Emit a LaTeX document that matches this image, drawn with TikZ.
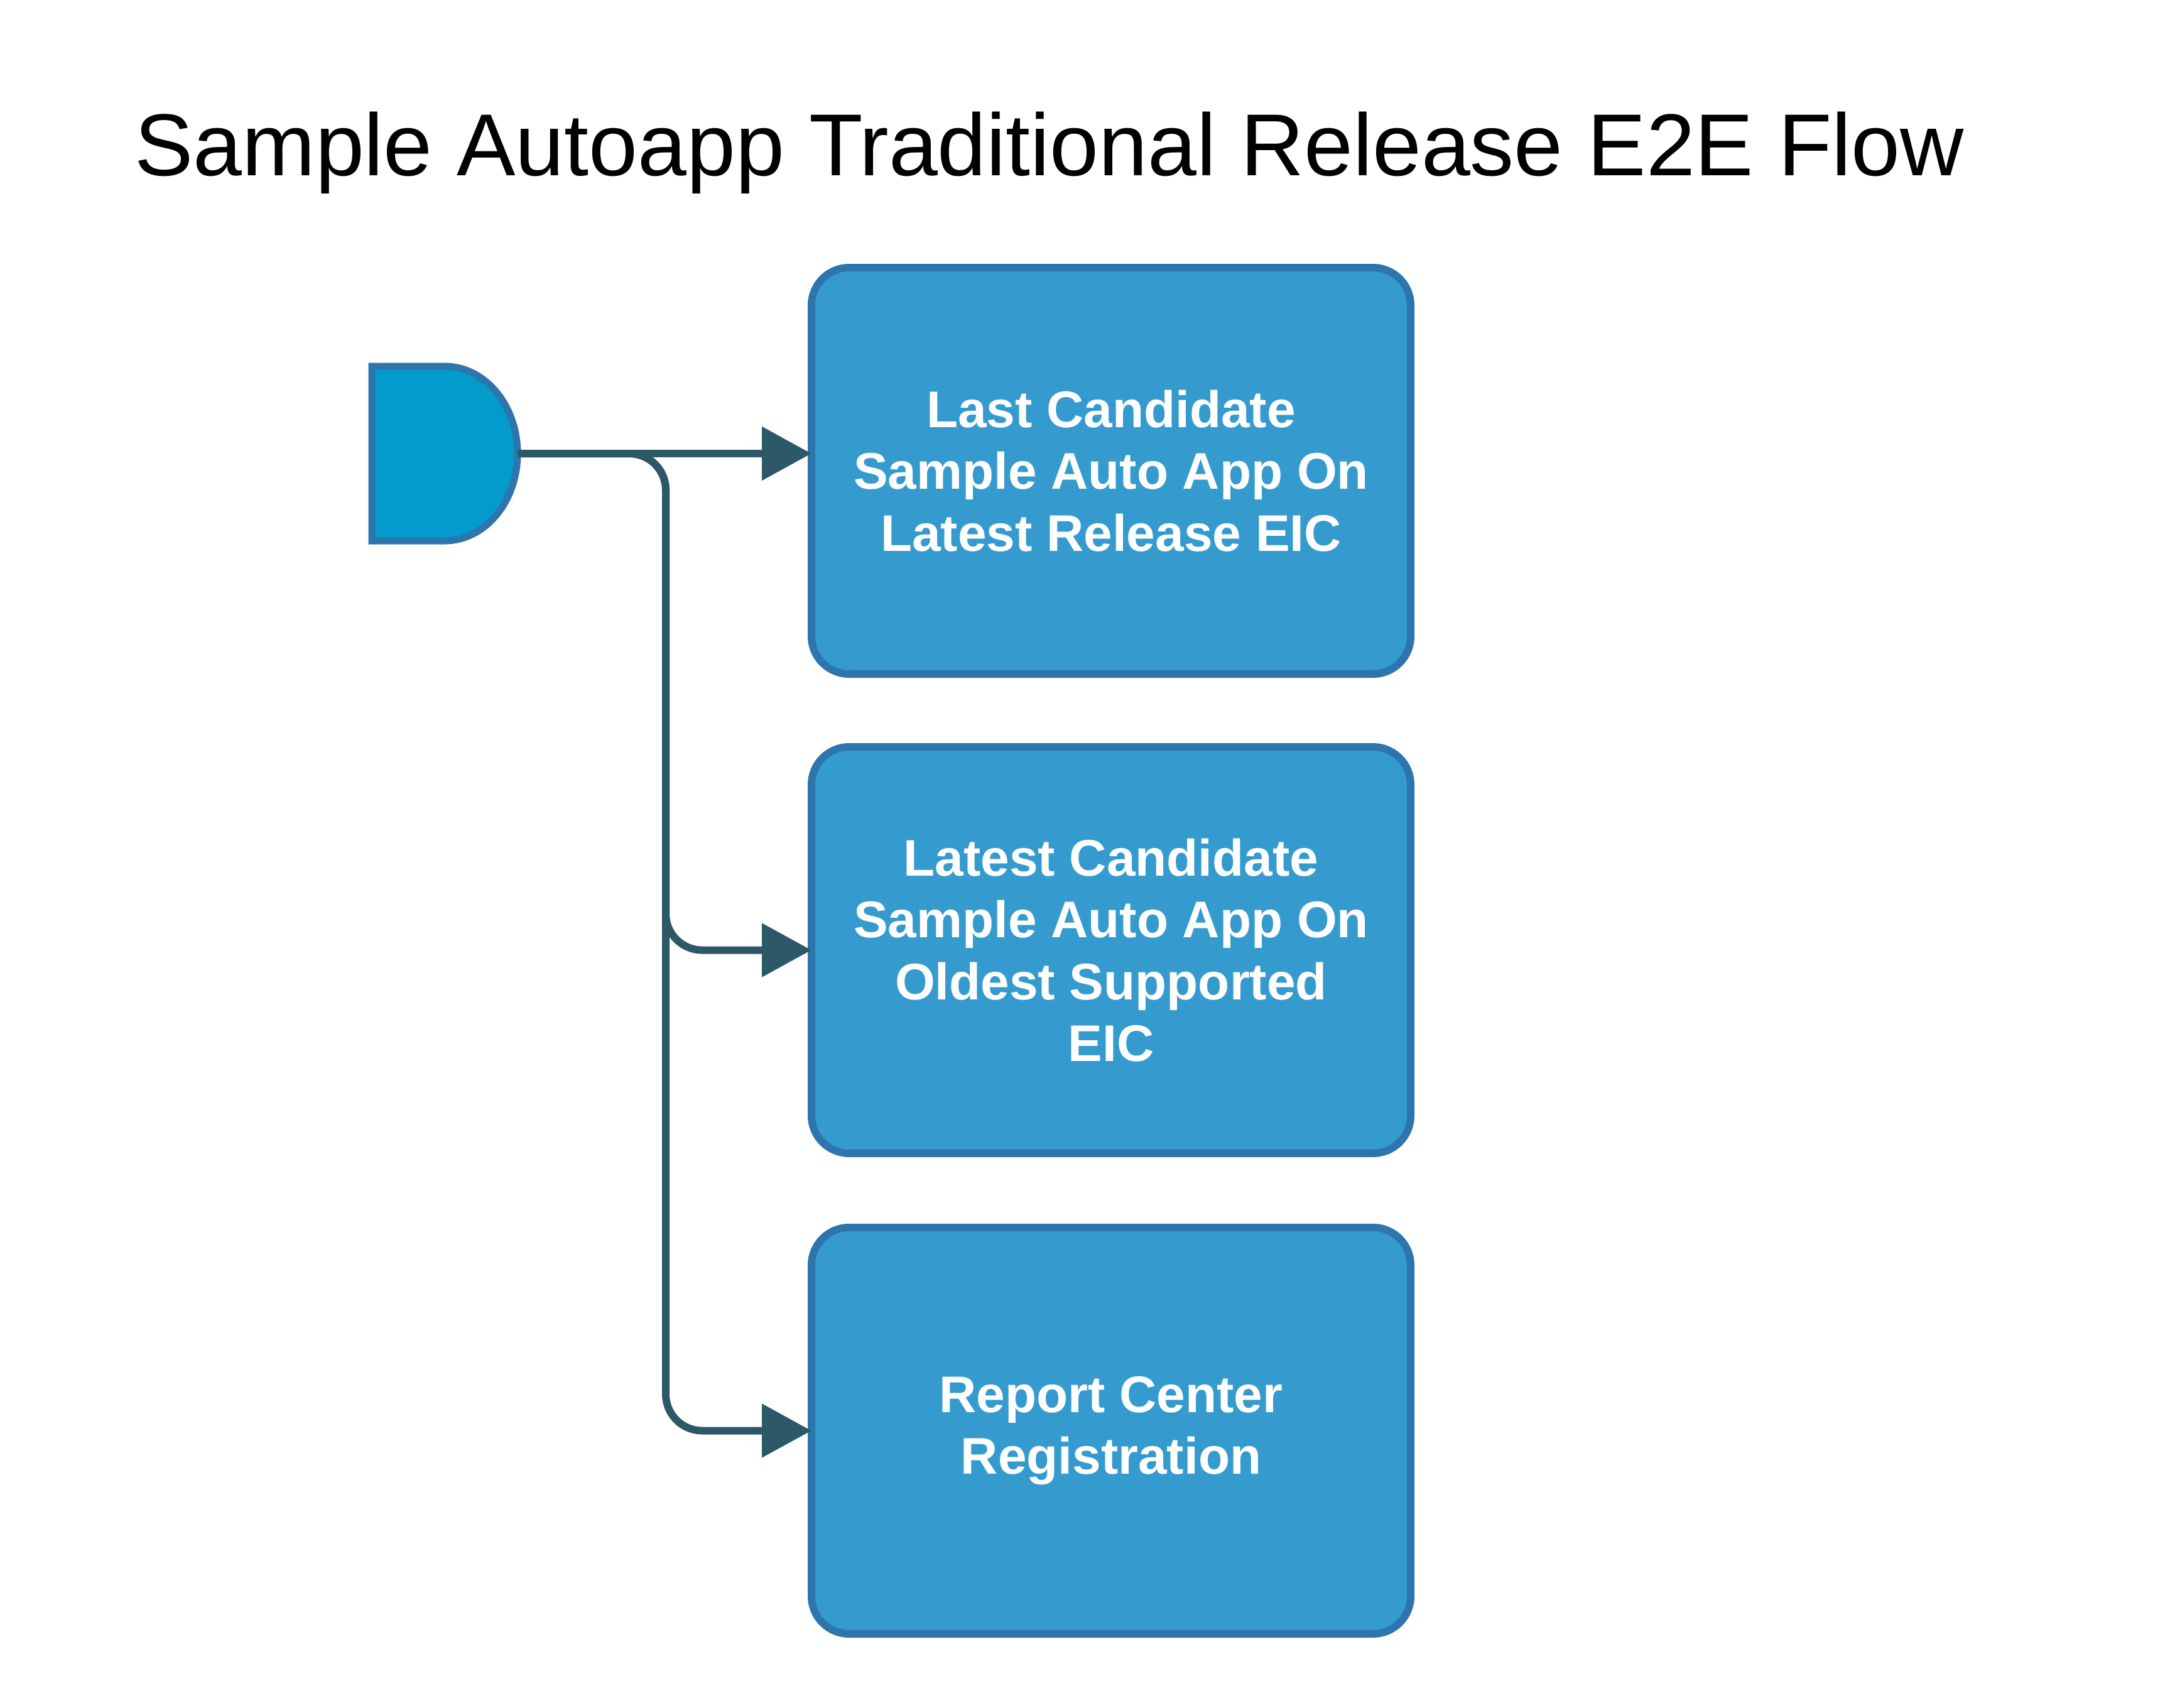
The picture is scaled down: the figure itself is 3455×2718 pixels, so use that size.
\documentclass[tikz,border=0pt]{standalone}
\usepackage{fontspec}
\setmainfont{Liberation Sans}
\usetikzlibrary{arrows.meta}
\definecolor{boxfill}{RGB}{53,155,206}
\definecolor{boxline}{RGB}{44,117,173}
\definecolor{startfill}{RGB}{3,155,204}
\definecolor{connline}{RGB}{45,88,104}
\begin{document}
\begin{tikzpicture}[x=1pt,y=-1pt,
  stepbox/.style={draw=boxline, fill=boxfill, line width=12pt, rounded corners=60pt,
    minimum width=954pt, minimum height=647pt, inner sep=0pt, outer sep=0pt,
    align=center, text=white, font=\bfseries\fontsize{82}{98.4}\selectfont},
  conn/.style={draw=connline, line width=12pt, -{Triangle[length=79pt,width=83pt]}, rounded corners=58pt}]
\useasboundingbox[fill=white] (0,0) rectangle (3455,2718);
\node[anchor=base west, font=\fontsize{140}{168}\selectfont, inner sep=0pt] (title) at (214,279) {Sample Autoapp Traditional Release E2E Flow};
\draw[fill=startfill, draw=boxline, line width=11pt] (592,583) -- (708,583) .. controls (772.1,583) and (824,645.2) .. (824,722) .. controls (824,798.8) and (772.1,861) .. (708,861) -- (592,861) -- cycle;
\node[minimum width=232pt, minimum height=278pt, inner sep=0pt, outer sep=0pt] (start) at (708,722) {};
\node[stepbox] (b1) at (1769,749.5) {Last Candidate\\Sample Auto App On\\Latest Release EIC};
\node[stepbox] (b2) at (1769,1512.5) {Latest Candidate\\Sample Auto App On\\Oldest Supported\\EIC};
\node[stepbox] (b3) at (1769,2277.5) {Report Center\\Registration};
\coordinate (split) at (1060,722);
\draw[conn] (start.east) -- (start.east -| b1.west);
\draw[conn] (start.east) -- (split) |- (b2.west);
\draw[conn] (start.east) -- (split) |- (b3.west);
\end{tikzpicture}
\end{document}
